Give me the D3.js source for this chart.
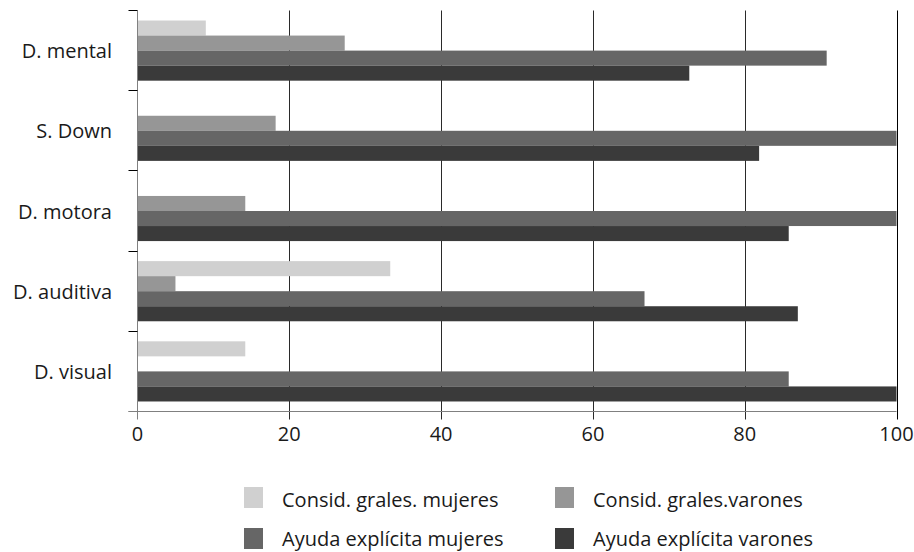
<!DOCTYPE html>
<html>
<head>
<meta charset="utf-8">
<script src="https://cdn.jsdelivr.net/npm/d3@7"></script>
<style>
  html, body { margin: 0; padding: 0; background: #fff; }
  svg { display: block; }
  text { font-family: "Open Sans", "Noto Sans", sans-serif; fill: #1a1a1a; }
</style>
</head>
<body>
<svg id="chart" width="914" height="552"></svg>
<script>
const categories = ["D. mental", "S. Down", "D. motora", "D. auditiva", "D. visual"];
const seriesNames = ["Consid. grales. mujeres", "Consid. grales.varones", "Ayuda explícita mujeres", "Ayuda explícita varones"];
const consMujeres = [9, 0, 0, 33.3, 14.2];
const consVarones = [27.3, 18.2, 14.2, 5, 0];
const ayudaMujeres = [90.8, 100, 100, 66.8, 85.8];
const ayudaVarones = [72.7, 81.9, 85.8, 87, 100];
const seriesColors = ["#d0d0d0", "#969696", "#666666", "#3a3a3a"];
const xTicks = [0, 20, 40, 60, 80, 100];

const seriesValues = [consMujeres, consVarones, ayudaMujeres, ayudaVarones];
const data = categories.map((c, i) => ({ cat: c, vals: seriesValues.map(s => s[i]) }));

const svg = d3.select("#chart");
const pLeft = 137.5, pRight = 896.5, pTop = 10.5, pBottom = 411.5;

const x = d3.scaleLinear().domain([0, 100]).range([pLeft, pRight]);
const y = d3.scaleBand().domain(categories).range([pTop, pBottom]).paddingInner(0.25).paddingOuter(0.125);
const ySub = d3.scaleBand().domain(d3.range(4)).range([0, y.bandwidth()]);

// grid lines
svg.append("g").selectAll("line").data(xTicks.slice(1)).join("line")
  .attr("x1", d => Math.round(x(d)) + 0.5).attr("x2", d => Math.round(x(d)) + 0.5)
  .attr("y1", pTop).attr("y2", pBottom + 8)
  .attr("stroke", d => d === 100 ? "#000" : "#2a2a2a").attr("stroke-width", 1);

// bars
const groups = svg.append("g").selectAll("g").data(data).join("g")
  .attr("transform", d => `translate(0,${y(d.cat)})`);
groups.selectAll("rect").data(d => d.vals.map((v, k) => ({ v, k }))).join("rect")
  .attr("x", x(0) - 0.5)
  .attr("y", d => ySub(d.k))
  .attr("width", d => x(d.v) - x(0) + 0.5)
  .attr("height", ySub.bandwidth())
  .attr("fill", d => seriesColors[d.k]);

// y axis
const yAxisG = svg.append("g");
yAxisG.append("line").attr("x1", pLeft).attr("x2", pLeft).attr("y1", pTop).attr("y2", pBottom + 8)
  .attr("stroke", "#808080");
const bounds = categories.map(c => y(c) - y.step() * y.paddingInner() / 2).concat([pBottom]);
bounds[0] = pTop;
yAxisG.selectAll("line.tk").data(bounds).join("line").attr("class", "tk")
  .attr("x1", pLeft - 9).attr("x2", pLeft)
  .attr("y1", d => Math.round(d - 0.5) + 0.5).attr("y2", d => Math.round(d - 0.5) + 0.5)
  .attr("stroke", d => d === pBottom ? "#808080" : "#000");
yAxisG.selectAll("text").data(categories).join("text")
  .attr("x", 112).attr("y", d => y(d) + y.bandwidth() / 2 + 7.5)
  .attr("text-anchor", "end")
  .attr("font-size", 20).text(d => d);

// x axis
const xAxisG = svg.append("g");
xAxisG.append("line").attr("x1", pLeft - 9).attr("x2", pRight).attr("y1", pBottom).attr("y2", pBottom)
  .attr("stroke", "#808080");
xAxisG.selectAll("text").data(xTicks).join("text")
  .attr("x", d => x(d)).attr("y", 441)
  .attr("text-anchor", "middle")
  .attr("font-size", 20).text(d => d);

// legend
const legendPos = [[244, 487, 507], [555, 487, 507], [244, 528, 545.5], [555, 528, 545.5]];
const lg = svg.append("g").selectAll("g").data(seriesNames).join("g");
lg.append("rect")
  .attr("x", (d, i) => legendPos[i][0]).attr("y", (d, i) => legendPos[i][1])
  .attr("width", 19).attr("height", 21).attr("fill", (d, i) => seriesColors[i]);
lg.append("text")
  .attr("x", (d, i) => legendPos[i][0] + 38).attr("y", (d, i) => legendPos[i][2])
  .attr("font-size", 20).text(d => d);
</script>
</body>
</html>
